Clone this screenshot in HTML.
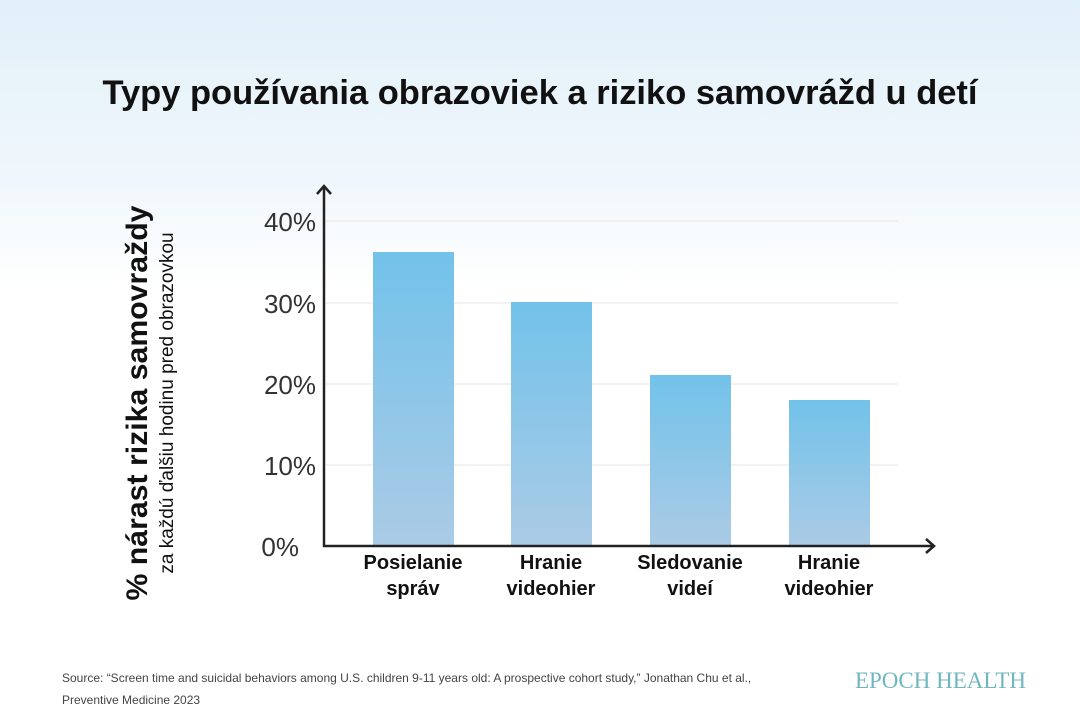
<!DOCTYPE html>
<html><head><meta charset="utf-8"><style>
body{margin:0;width:1080px;height:720px;overflow:hidden;background:#fff}
</style></head><body>
<svg width="1080" height="720" xmlns="http://www.w3.org/2000/svg" font-family="Liberation Sans, sans-serif">
<defs>
<linearGradient id="bg" x1="0" y1="0" x2="0" y2="1">
<stop offset="0" stop-color="#e2f0f9"/><stop offset="0.25" stop-color="#f0f7fc"/><stop offset="0.4" stop-color="#fff"/>
</linearGradient>
<linearGradient id="bar" x1="0" y1="0" x2="0" y2="1">
<stop offset="0" stop-color="#72c2ea"/><stop offset="1" stop-color="#abcbe6"/>
</linearGradient>
</defs>
<rect width="1080" height="720" fill="url(#bg)"/>
<text x="540" y="104" text-anchor="middle" font-size="34.5" font-weight="bold" fill="#111" textLength="875" lengthAdjust="spacingAndGlyphs">Typy používania obrazoviek a riziko samovrážd u detí</text>
<g stroke="#e6e6e6" stroke-width="1">
<line x1="326" y1="221" x2="898" y2="221"/><line x1="326" y1="303" x2="898" y2="303"/>
<line x1="326" y1="384" x2="898" y2="384"/><line x1="326" y1="465" x2="898" y2="465"/>
</g>
<g fill="url(#bar)">
<rect x="373" y="252" width="81" height="294"/>
<rect x="511" y="302" width="81" height="244"/>
<rect x="650" y="375" width="81" height="171"/>
<rect x="789" y="400" width="81" height="146"/>
</g>
<g stroke="#222" stroke-width="2.5" fill="none">
<path d="M324 186 V546 H934"/>
<path d="M317 194 L324 186 L331 194"/>
<path d="M926 539 L934 546 L926 553"/>
</g>
<g font-size="26" fill="#333" text-anchor="end">
<text x="316" y="231">40%</text><text x="316" y="313">30%</text>
<text x="316" y="394">20%</text><text x="316" y="475">10%</text><text x="299" y="556">0%</text>
</g>
<g font-size="20" font-weight="bold" fill="#111" text-anchor="middle">
<text x="413" y="569">Posielanie</text><text x="413" y="595">správ</text>
<text x="551" y="569">Hranie</text><text x="551" y="595">videohier</text>
<text x="690" y="569">Sledovanie</text><text x="690" y="595">videí</text>
<text x="829" y="569">Hranie</text><text x="829" y="595">videohier</text>
</g>
<text transform="translate(147,403) rotate(-90)" text-anchor="middle" font-size="30" font-weight="bold" fill="#111" textLength="395" lengthAdjust="spacingAndGlyphs">% nárast rizika samovraždy</text>
<text transform="translate(173,403) rotate(-90)" text-anchor="middle" font-size="19" fill="#111">za každú ďalšiu hodinu pred obrazovkou</text>
<text x="62" y="682" font-size="12" fill="#444">Source: “Screen time and suicidal behaviors among U.S. children 9-11 years old: A prospective cohort study,” Jonathan Chu et al.,</text>
<text x="62" y="704" font-size="12" fill="#444">Preventive Medicine 2023</text>
<text x="1026" y="688" text-anchor="end" font-family="Liberation Serif, serif" font-size="23" fill="#6fb6bf">EPOCH HEALTH</text>
</svg>
</body></html>
